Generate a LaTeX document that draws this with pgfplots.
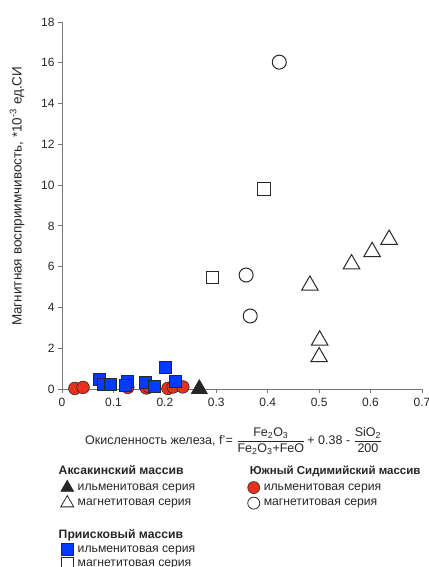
\documentclass[border=0pt]{standalone}
\usepackage{pgfplots}
\pgfplotsset{compat=1.18}
\usepackage{fontspec}
\setmainfont{Liberation Sans}
\definecolor{redc}{RGB}{230,50,28}
\definecolor{bluec}{RGB}{0,60,255}
\definecolor{axgray}{RGB}{120,120,120}
\definecolor{mkgray}{RGB}{40,40,40}
\begin{document}
\begin{tikzpicture}[x=1pt,y=1pt]
\useasboundingbox (-62,-178) rectangle (366,389);
\begin{axis}[
  at={(0,0)}, anchor=south west,
  scale only axis, width=360pt, height=367pt,
  xmin=0, xmax=0.7, ymin=0, ymax=18,
  axis x line=bottom, axis y line=left,
  axis line style={-, draw=axgray, line width=0.8pt},
  every outer x axis line/.append style={-},
  every outer y axis line/.append style={-},
  xtick={0,0.1,0.2,0.3,0.4,0.5,0.6,0.7},
  ytick={0,2,4,6,8,10,12,14,16,18},
  xticklabels={0,0.1,0.2,0.3,0.4,0.5,0.6,0.7},
  tick style={draw=axgray, line width=0.8pt},
  tick align=outside, major tick length=4pt,
  /pgf/number format/assume math mode=true,
  tick label style={font=\fontsize{12}{14}\selectfont, text=black!85},
  xticklabel style={yshift=-1.5pt},
  xlabel={Окисленность железа, f'= $\displaystyle\frac{\mbox{Fe\textsubscript{2}O\textsubscript{3}}}{\mbox{Fe\textsubscript{2}O\textsubscript{3}+FeO}}$\,+ 0.38 - $\displaystyle\frac{\mbox{SiO\textsubscript{2}}}{\mbox{200}}$},
  xlabel style={at={(axis description cs:0.477,-0.141)}, anchor=center, font=\fontsize{12.5}{14}\selectfont, text=black!85},
  ylabel={Магнитная восприимчивость, *10\textsuperscript{-3} ед.СИ},
  ylabel style={at={(axis description cs:-0.125,0.525)}, anchor=center, font=\fontsize{13.5}{15}\selectfont, text=black!85},
  clip=false,
  legend columns=2,
  legend cell align=left,
  legend style={at={(axis description cs:-0.018,-0.197)}, anchor=north west, draw=none, fill=none,
    font=\fontsize{12.2}{14}\selectfont, text=black!85, row sep=2pt,
    /tikz/every odd column/.style={column sep=2pt},
    /tikz/column 2/.style={column sep=48pt}},
]
% Южный Сидимийский - ильменитовая (red circles)
\addplot[forget plot, only marks, mark=*, mark size=6.3pt, mark options={fill=redc, draw=mkgray, line width=0.6pt}] coordinates {
(0.025,0.03) (0.041,0.08) (0.128,0.08) (0.164,0.05) (0.170,0.10) (0.206,0.03) (0.216,0.10) (0.235,0.10)
};
% Приисковый - ильменитовая (blue squares)
\addplot[forget plot, only marks, mark=square*, mark size=6pt, mark options={fill=bluec, draw=mkgray, line width=0.6pt}] coordinates {
(0.072,0.49) (0.080,0.25) (0.093,0.25) (0.127,0.36) (0.124,0.16) (0.161,0.33) (0.180,0.11) (0.200,1.05) (0.221,0.36)
};
% Аксакинский - ильменитовая (filled triangle)
\addplot[forget plot, only marks, mark=triangle*, mark size=9.5pt, mark options={fill=black!85, draw=black!85}] coordinates {
(0.267,0.0)
};
% Аксакинский - магнетитовая (open triangles)
\addplot[forget plot, only marks, mark=triangle, mark size=9.5pt, mark options={draw=mkgray, line width=1pt}] coordinates {
(0.482,5.08) (0.563,6.13) (0.603,6.73) (0.636,7.33) (0.501,2.39) (0.500,1.57)
};
% Приисковый - магнетитовая (open squares)
\addplot[forget plot, only marks, mark=square, mark size=6.3pt, mark options={draw=mkgray, line width=1pt}] coordinates {
(0.393,9.80) (0.293,5.46)
};
% Южный Сидимийский - магнетитовая (open circles)
\addplot[forget plot, only marks, mark=o, mark size=7pt, mark options={draw=mkgray, line width=1pt}] coordinates {
(0.4225,16.03) (0.358,5.59) (0.366,3.58)
};
% legend
\addlegendimage{empty legend}
\addlegendentry{\hspace*{-19pt}\textbf{Аксакинский массив}}
\addlegendimage{empty legend}
\addlegendentry{\hspace*{-14pt}\fontsize{11.5}{14}\selectfont\textbf{Южный Сидимийский массив}}
\addlegendimage{only marks, mark=triangle*, mark size=7.5pt, mark options={fill=black!85, draw=black!85}}
\addlegendentry{ильменитовая серия}
\addlegendimage{only marks, mark=*, mark size=6pt, mark options={fill=redc, draw=mkgray, line width=0.6pt}}
\addlegendentry{ильменитовая серия}
\addlegendimage{only marks, mark=triangle, mark size=7.5pt, mark options={draw=mkgray, line width=0.8pt}}
\addlegendentry{магнетитовая серия}
\addlegendimage{only marks, mark=o, mark size=6pt, mark options={draw=mkgray, line width=0.8pt}}
\addlegendentry{магнетитовая серия}
\addlegendimage{empty legend}
\addlegendentry{\phantom{Пр}}
\addlegendimage{empty legend}
\addlegendentry{\phantom{Пр}}
\addlegendimage{empty legend}
\addlegendentry{\hspace*{-19pt}\textbf{Приисковый массив}}
\addlegendimage{empty legend}
\addlegendentry{}
\addlegendimage{only marks, mark=square*, mark size=6pt, mark options={fill=bluec, draw=mkgray, line width=0.6pt}}
\addlegendentry{ильменитовая серия}
\addlegendimage{empty legend}
\addlegendentry{}
\addlegendimage{only marks, mark=square, mark size=6pt, mark options={draw=mkgray, line width=0.8pt}}
\addlegendentry{магнетитовая серия}
\addlegendimage{empty legend}
\addlegendentry{}
\end{axis}
\end{tikzpicture}
\end{document}
